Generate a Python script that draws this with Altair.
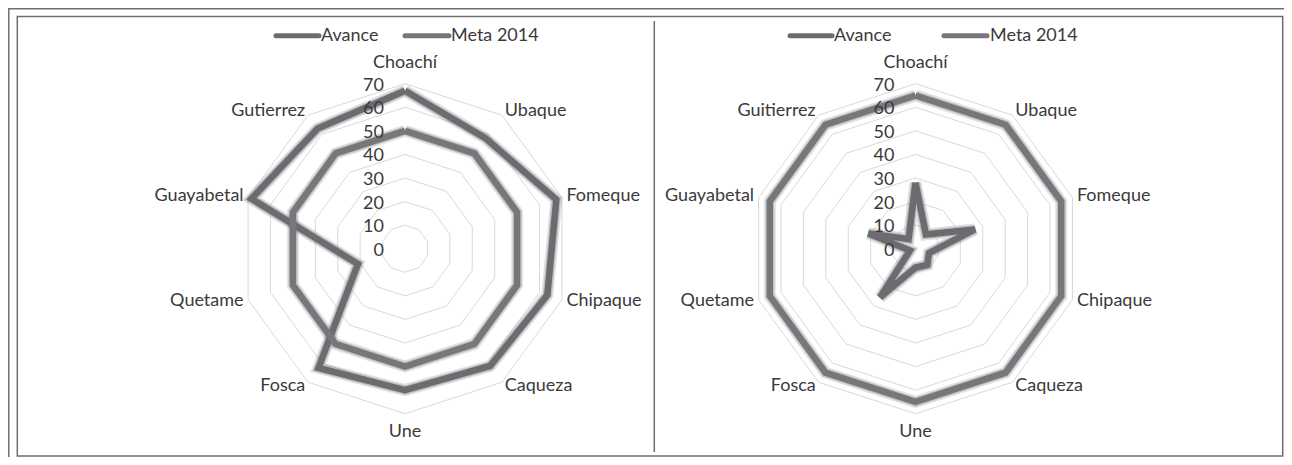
import math
import altair as alt
import pandas as pd

# ---------------- data ----------------
categories_left = ["Choachí", "Ubaque", "Fomeque", "Chipaque", "Caqueza",
                   "Une", "Fosca", "Quetame", "Guayabetal", "Gutierrez"]
categories_right = ["Choachí", "Ubaque", "Fomeque", "Chipaque", "Caqueza",
                    "Une", "Fosca", "Quetame", "Guayabetal", "Guitierrez"]
avance_left = [67, 58, 67.5, 63.5, 61.5, 60, 62.5, 21, 68.5, 63]
meta_left = [50, 50, 50, 50, 50, 50, 50, 50, 50, 50]
avance_right = [28, 7.5, 26.5, 6, 8.5, 8, 25.5, 2.5, 21, 5]
meta_right = [65, 65, 65, 65, 65, 65, 65, 65, 65, 65]
series_names = ["Avance", "Meta 2014"]
tick_values = [0, 10, 20, 30, 40, 50, 60, 70]
ring_values = [10, 20, 30, 40, 50, 60, 70]

# ---------------- layout (not data) ----------------
W, H = 1276, 449
K = 165.0 / 70.0                      # px per unit
X_MAX, Y_MAX = W / K, H / K
CXL = (405 - 8) / K
CXR = (915.5 - 8) / K
CY = (H - (248.7 - 8)) / K
FONT = "Lato"
FS = 18
TXT = "#3a3a3a"
COLORS = {"Avance": "#6b6b70", "Meta 2014": "#77777b"}

# ---------------- tables ----------------
rows = []
for panel, cats, av, me in [("L", categories_left, avance_left, meta_left),
                            ("R", categories_right, avance_right, meta_right)]:
    for sname, vals in [("Avance", av), ("Meta 2014", me)]:
        for i in range(11):
            j = i % 10
            rows.append({"panel": panel, "series": sname, "cat": cats[j],
                         "idx": i, "value": vals[j]})
series_df = pd.DataFrame(rows)

ring_rows = []
for panel in ["L", "R"]:
    for lv in ring_values:
        for i in range(11):
            ring_rows.append({"panel": panel, "level": lv, "idx": i, "value": lv})
ring_df = pd.DataFrame(ring_rows)

tick_df = pd.DataFrame([{"panel": p, "value": v, "label": str(v)}
                        for p in ["L", "R"] for v in tick_values])

cat_rows = []
for panel, cats in [("L", categories_left), ("R", categories_right)]:
    for i, c in enumerate(cats):
        cat_rows.append({"panel": panel, "cat": c, "idx": i})
cat_df = pd.DataFrame(cat_rows)

CX_EXPR = f"(datum.panel == 'L' ? {CXL} : {CXR})"
TH = "datum.idx * 2 * PI / 10"

xs = alt.Scale(domain=[0, X_MAX], nice=False, zero=False)
ys = alt.Scale(domain=[0, Y_MAX], nice=False, zero=False)


def pos(chart, rexpr="datum.value"):
    return chart.transform_calculate(
        theta=TH,
    ).transform_calculate(
        px=f"{CX_EXPR} + ({rexpr}) * sin(datum.theta)",
        py=f"{CY} + ({rexpr}) * cos(datum.theta)",
    )


def xy():
    return dict(x=alt.X("px:Q", scale=xs, axis=None),
                y=alt.Y("py:Q", scale=ys, axis=None))


layers = []

# grid rings
layers.append(
    pos(alt.Chart(ring_df)).mark_line(color="#d9d9d9", strokeWidth=1).encode(
        **xy(), detail=["panel:N", "level:N"], order="idx:Q")
)

# series lines (glow + main)
cscale = alt.Scale(domain=series_names, range=[COLORS[s] for s in series_names])
layers.append(
    pos(alt.Chart(series_df)).mark_line(strokeWidth=12, opacity=0.2, strokeJoin="miter").encode(
        **xy(), color=alt.Color("series:N", scale=cscale, legend=None),
        detail=["panel:N", "series:N"], order="idx:Q")
)
layers.append(
    pos(alt.Chart(series_df)).mark_line(strokeWidth=9, opacity=0.3, strokeJoin="miter").encode(
        **xy(), color=alt.Color("series:N", scale=cscale, legend=None),
        detail=["panel:N", "series:N"], order="idx:Q")
)
layers.append(
    pos(alt.Chart(series_df)).mark_line(strokeWidth=6.5, strokeJoin="miter").encode(
        **xy(), color=alt.Color("series:N", scale=cscale, legend=None),
        detail=["panel:N", "series:N"], order="idx:Q")
)

# tick labels
layers.append(
    alt.Chart(tick_df).transform_calculate(
        px=CX_EXPR, py=f"{CY} + datum.value"
    ).mark_text(align="right", baseline="middle", dx=-21, dy=2, font=FONT,
                fontSize=FS, color=TXT).encode(**xy(), text="label:N")
)

# category labels
base_cat = alt.Chart(cat_df)
R_EXPR = "datum.idx == 0 ? 76.5 : (datum.idx == 5 ? 74 : 72)"
for filt, al, bl in [("datum.idx >= 1 && datum.idx <= 4", "left", "middle"),
                     ("datum.idx >= 6", "right", "middle"),
                     ("datum.idx == 0", "center", "alphabetic"),
                     ("datum.idx == 5", "center", "top")]:
    layers.append(
        pos(base_cat.transform_filter(filt), R_EXPR).mark_text(
            align=al, baseline=bl, font=FONT, fontSize=FS, color=TXT
        ).encode(**xy(), text="cat:N")
    )

# frame
one = pd.DataFrame({"a": [0]})
layers.append(alt.Chart(one).mark_rect(fill=None, stroke="#6e6e6e", strokeWidth=1.5).encode(
    x=alt.value(9.3), x2=alt.value(1274.7), y=alt.value(8.5), y2=alt.value(448)))
layers.append(alt.Chart(one).mark_rule(color="#6e6e6e", strokeWidth=1.5).encode(
    x=alt.value(646.3), y=alt.value(13), y2=alt.value(444)))
layers.append(alt.Chart(one).mark_rule(color="#6e6e6e", strokeWidth=1.5).encode(
    x=alt.value(0.8), y=alt.value(0), y2=alt.value(H)))
layers.append(alt.Chart(one).mark_rule(color="#6e6e6e", strokeWidth=1.5).encode(
    x=alt.value(0), x2=alt.value(W), y=alt.value(0.8)))

# legends
LEG = {"L": [(274, 320, 321), (403, 450, 451)],
       "R": [(788, 833, 834), (942, 988, 990)]}
LY = 35.7 - 8
for p in ["L", "R"]:
    for s, (x1, x2, xt) in zip(series_names, LEG[p]):
        layers.append(alt.Chart(one).mark_rule(color=COLORS[s], strokeWidth=5, strokeCap="round").encode(
            x=alt.value(x1 - 8 + 2), x2=alt.value(x2 - 8 - 1), y=alt.value(LY)))
        layers.append(alt.Chart(one).mark_text(text=s, align="left", baseline="middle",
                                              font=FONT, fontSize=FS, color=TXT).encode(
            x=alt.value(xt - 8), y=alt.value(LY)))

chart = alt.layer(*layers).properties(
    width=W, height=H,
    autosize=alt.AutoSizeParams(type="none"),
    padding=0,
    background="white",
).configure_view(strokeWidth=0)

chart.save("out.html", embed_options={"renderer": "svg", "actions": False})
